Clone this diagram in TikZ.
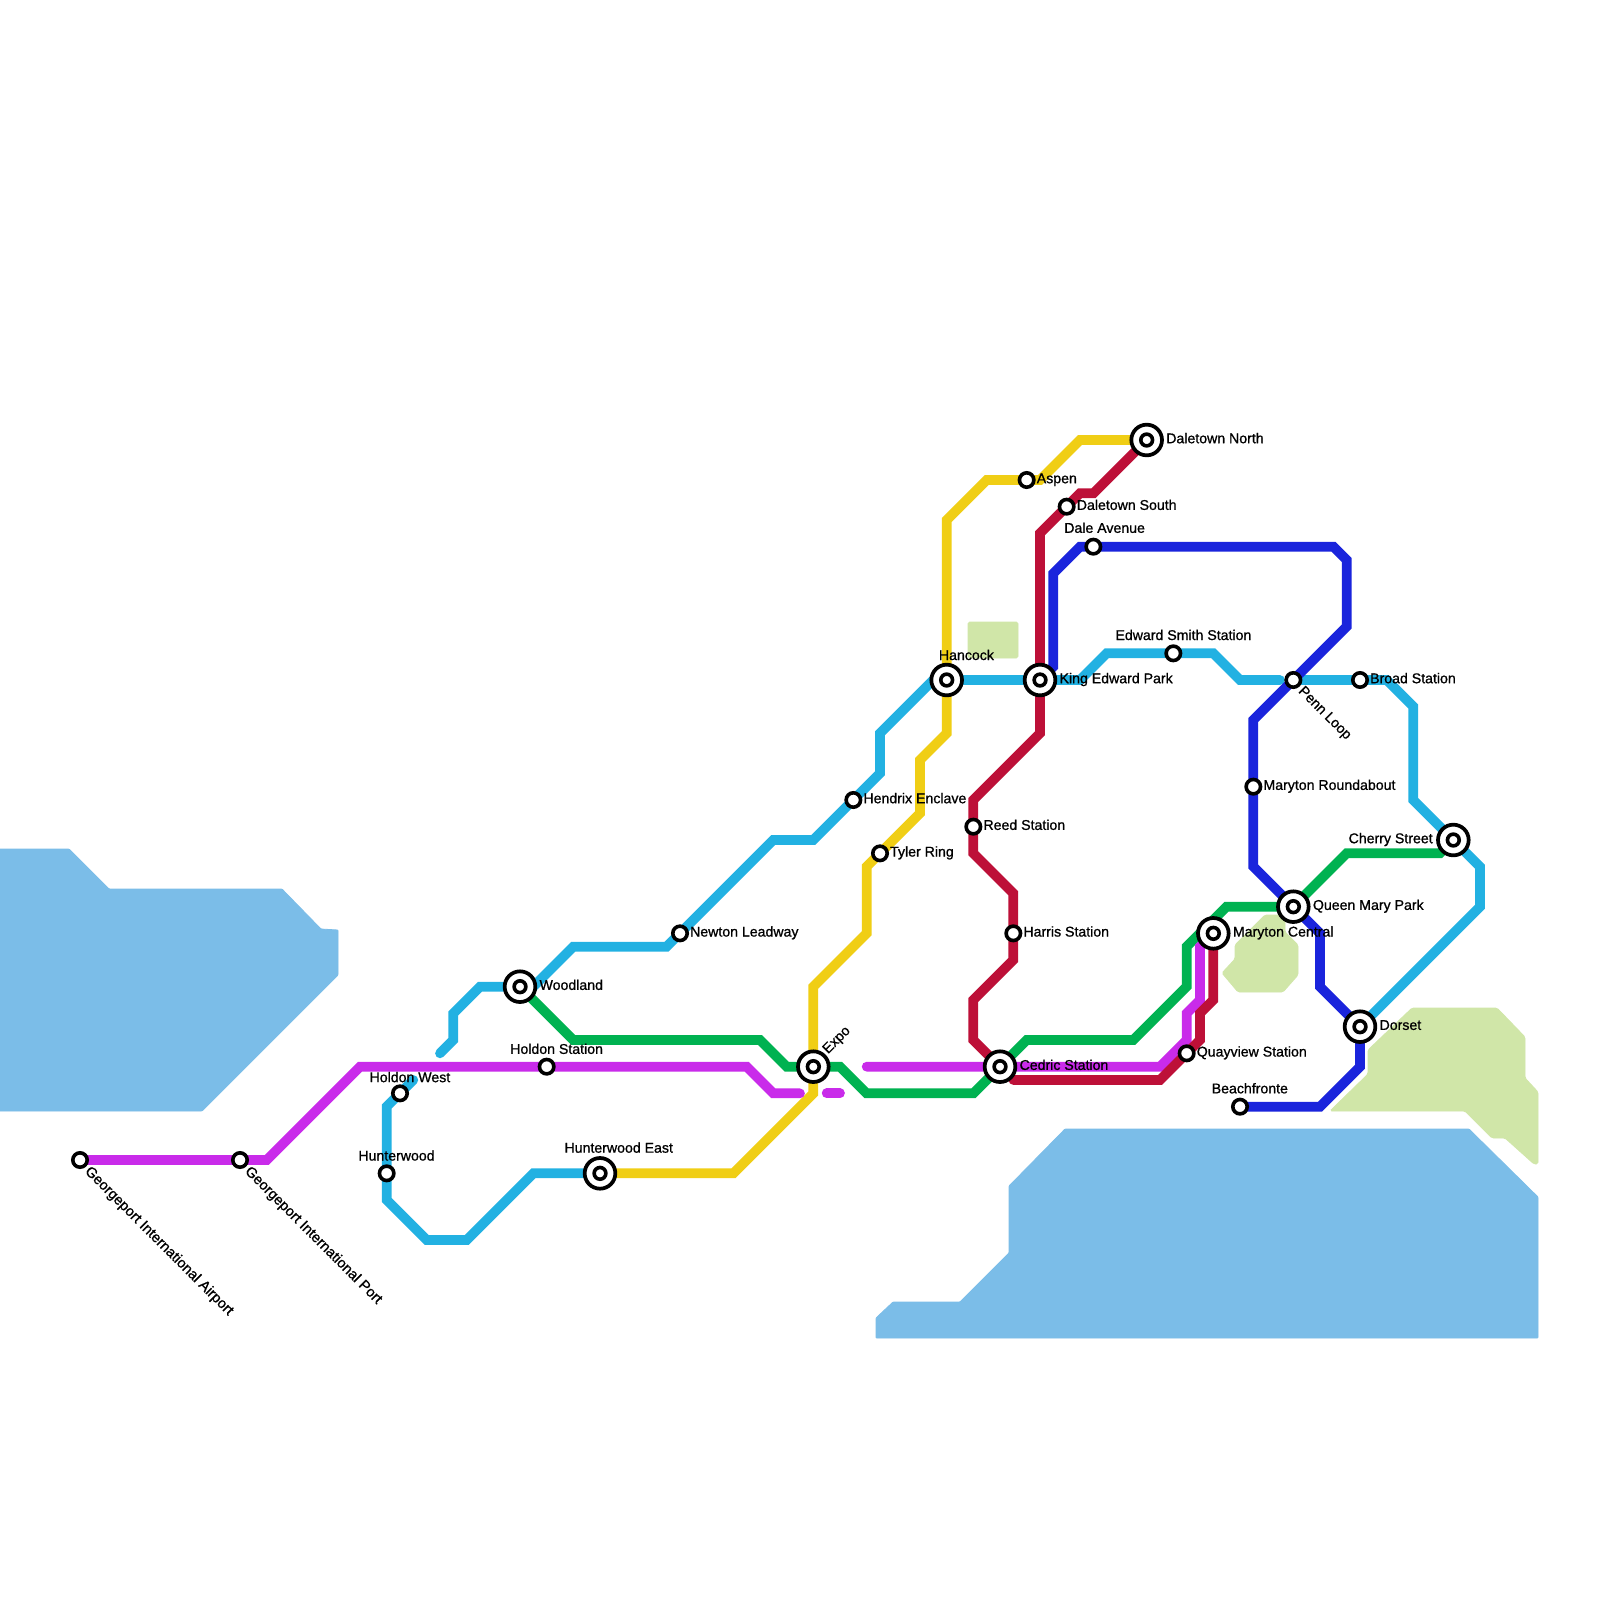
\documentclass[tikz,border=0pt]{standalone}
\usepackage{fontspec}
\newfontfamily\lblfont{Liberation Sans}[FakeBold=0.9]
\pgfdeclarelayer{bg}
\pgfsetlayers{bg,main}
\tikzset{
  stn/.style={circle,draw=black,fill=white,line width=2.7pt,minimum size=10.8pt,inner sep=0pt},
  ic/.style={circle,draw=black,fill=white,line width=2.8pt,minimum size=23pt,inner sep=0pt,
    path picture={\draw[line width=2.7pt] (path picture bounding box.center) circle (4.4pt);}},
  lbl/.style={inner sep=0pt,font=\lblfont\fontsize{10.6}{12}\selectfont,text=black},
  rotlbl/.style={lbl,font=\lblfont\fontsize{10.85}{12}\selectfont,anchor=west,rotate=-45,xshift=8.5pt,yshift=-1.3pt},
  rlbl/.style={lbl,anchor=base west,xshift=7.4pt,yshift=-2.4pt},
  irlbl/.style={lbl,anchor=base west,xshift=14.5pt,yshift=-2.4pt},
  ablbl/.style={lbl,anchor=base west},
  ln/.style={line width=7.3pt,line cap=round,line join=miter,miter limit=10},
  mag/.style={ln,draw=cMag},
  cya/.style={ln,draw=cCya},
  yel/.style={ln,draw=cYel},
  gre/.style={ln,draw=cGre},
  rdd/.style={ln,draw=cRed},
  blu/.style={ln,draw=cBlu},
  water/.style={fill=cWater,draw=cWater,line width=.6pt,rounded corners=.6pt},
  park/.style={fill=cPark,draw=cPark,line width=.6pt,rounded corners=1.2pt}
}
\definecolor{cMag}{HTML}{C92BEA}
\definecolor{cCya}{HTML}{22B1E2}
\definecolor{cYel}{HTML}{F0CE15}
\definecolor{cGre}{HTML}{00B251}
\definecolor{cRed}{HTML}{BD1038}
\definecolor{cBlu}{HTML}{1A24DC}
\definecolor{cWater}{HTML}{7BBDE8}
\definecolor{cPark}{HTML}{D0E6A8}
\begin{document}
\begin{tikzpicture}[x=10pt,y=-10pt]
\useasboundingbox (0,0) rectangle (120,120);
% stations
\node[stn] (airport) at (6,87) {};
\node[stn] (port) at (18,87) {};
\node[stn] (hwest) at (30,82) {};
\node[stn] (hwood) at (29,88) {};
\node[ic]  (woodland) at (39,74) {};
\node[stn] (hstation) at (41,80) {};
\node[ic]  (heast) at (45,88) {};
\node[stn] (newton) at (51,70) {};
\node[ic]  (expo) at (61,80) {};
\node[stn] (tyler) at (66,64) {};
\node[stn] (hendrix) at (64,60) {};
\node[ic]  (hancock) at (71,51) {};
\node[stn] (reed) at (73,62) {};
\node[ic]  (king) at (78,51) {};
\node[stn] (aspen) at (77,36) {};
\node[ic]  (dnorth) at (86,33) {};
\node[stn] (dsouth) at (80,38) {};
\node[stn] (dale) at (82,41) {};
\node[stn] (edward) at (88,49) {};
\node[stn] (penn) at (97,51) {};
\node[stn] (broad) at (102,51) {};
\node[stn] (round) at (94,59) {};
\node[ic]  (cherry) at (109,63) {};
\node[ic]  (queen) at (97,68) {};
\node[ic]  (central) at (91,70) {};
\node[stn] (harris) at (76,70) {};
\node[ic]  (cedric) at (75,80) {};
\node[stn] (quay) at (89,79) {};
\node[stn] (beach) at (93,83) {};
\node[ic]  (dorset) at (102,77) {};
% free ends
\coordinate (cyanA) at (33,79);
\coordinate (cyanB) at (31,81);
\coordinate (magA) at (60,82);
\coordinate (magB1) at (62,82);
\coordinate (magB2) at (63,82);
\coordinate (magC) at (65,80);
\coordinate (redB) at (76,81);
\coordinate (cyanC) at (96,51);
\coordinate (bluE) at (79,50);
% labels
\node[rotlbl] (tairport) at (airport) {Georgeport International Airport};
\node[rotlbl] (tport) at (port) {Georgeport International Port};
\node[ablbl,xshift=-23pt,yshift=8.4pt] (thwest) at (hwest) {Holdon West};
\node[ablbl,xshift=-21.4pt,yshift=9.6pt] (thwood) at (hwood) {Hunterwood};
\node[irlbl] (twood) at (woodland) {Woodland};
\node[ablbl,xshift=-27.5pt,yshift=9.6pt] (thst) at (hstation) {Holdon Station};
\node[ablbl,xshift=-26.8pt,yshift=15.5pt] (theast) at (heast) {Hunterwood East};
\node[rlbl] (tnewton) at (newton) {Newton Leadway};
\node[lbl,anchor=west,rotate=45,xshift=14.2pt,yshift=1.3pt] (texpo) at (expo) {Expo};
\node[rlbl] (ttyler) at (tyler) {Tyler Ring};
\node[rlbl] (thendrix) at (hendrix) {Hendrix Enclave};
\node[ablbl,xshift=-6pt,yshift=15pt] (thancock) at (hancock) {Hancock};
\node[rlbl] (treed) at (reed) {Reed Station};
\node[irlbl] (tking) at (king) {King Edward Park};
\node[rlbl] (taspen) at (aspen) {Aspen};
\node[irlbl] (tdnorth) at (dnorth) {Daletown North};
\node[rlbl] (tdsouth) at (dsouth) {Daletown South};
\node[ablbl,xshift=-22pt,yshift=10.4pt] (tdale) at (dale) {Dale Avenue};
\node[ablbl,xshift=-43.6pt,yshift=10pt] (tedward) at (edward) {Edward Smith Station};
\node[rotlbl,font=\lblfont\fontsize{10.6}{12}\selectfont] (tpenn) at (penn) {Penn Loop};
\node[rlbl] (tbroad) at (broad) {Broad Station};
\node[rlbl] (tround) at (round) {Maryton Roundabout};
\node[lbl,anchor=base east,xshift=-15.3pt,yshift=-2.4pt] (tcherry) at (cherry) {Cherry Street};
\node[irlbl] (tqueen) at (queen) {Queen Mary Park};
\node[irlbl] (tcentral) at (central) {Maryton Central};
\node[rlbl] (tharris) at (harris) {Harris Station};
\node[irlbl] (tcedric) at (cedric) {Cedric Station};
\node[rlbl] (tquay) at (quay) {Quayview Station};
\node[ablbl,xshift=-21.4pt,yshift=10pt] (tbeach) at (beach) {Beachfronte};
\node[irlbl] (tdorset) at (dorset) {Dorset};
\begin{pgfonlayer}{bg}
\begin{scope}[x=.75pt,y=-.75pt]
\fill[white] (0,0) rectangle (1600,1600);
\path[water] (-2,849) -- (69,849) -- (109,889) -- (282,889) -- (321,929) -- (338,930) -- (338,975) -- (202,1111) -- (-2,1111) -- cycle;
\path[water] (1065,1129) -- (1469,1129) -- (1538,1197) -- (1538,1338) -- (876,1338) -- (876,1318) -- (893,1302) -- (960,1302) -- (1009,1253) -- (1009,1186) -- cycle;
\path[park] (968,622) rectangle (1018,658);
\path[park] (1222,973) -- (1235,959) -- (1235,945) -- (1265,915) -- (1285,915) -- (1285,932) -- (1298,945) -- (1298,975) -- (1283,992) -- (1238,992) -- cycle;
\path[park] (1330,1111) -- (1368,1074) -- (1368,1050) -- (1412,1008) -- (1497,1008) -- (1525,1037) -- (1525,1078) -- (1538,1092) -- (1538,1164) -- (1534,1164) -- (1505,1138) -- (1492,1138) -- (1465,1111) -- cycle;
\end{scope}
% lines
\draw[yel] (heast.center) -- (55,88) -- (61,82) -- (expo.center) -- (61,74) -- (65,70) -- (65,65) -- (69,61) -- (69,57) -- (71,55) -- (hancock.center) -- (71,39) -- (74,36) -- (aspen.center) -- (78,36) -- (81,33) -- (dnorth.center);
\draw[gre] (woodland.center) -- (43,78) -- (57,78) -- (59,80) -- (expo.center) -- (63,80) -- (65,82) -- (73,82) -- (cedric.center) -- (77,78) -- (85,78) -- (89,74) -- (89,71) -- (92,68) -- (queen.center) -- (101,64) -- (108,64) -- (cherry.center);
\draw[cya] (cyanA) -- (34,78) -- (34,76) -- (36,74) -- (woodland.center) -- (40,74) -- (43,71) -- (50,71) -- (newton.center) -- (58,63) -- (61,63) -- (hendrix.center) -- (66,58) -- (66,55) -- (70,51) -- (hancock.center) -- (king.center) -- (81,51) -- (83,49) -- (edward.center) -- (91,49) -- (93,51) -- (cyanC);
\draw[cya] (penn.center) -- (broad.center) -- (104,51) -- (106,53) -- (106,60) -- (cherry.center) -- (111,65) -- (111,68) -- (dorset.center);
\draw[cya] (cyanB) -- (hwest.center) -- (29,83) -- (hwood.center) -- (29,90) -- (32,93) -- (35,93) -- (40,88) -- (heast.center);
\draw[mag] (airport.center) -- (port.center) -- (20,87) -- (27,80) -- (hstation.center) -- (56,80) -- (58,82) -- (magA);
\draw[mag] (magB1) -- (magB2);
\draw[mag] (magC) -- (cedric.center) -- (87,80) -- (89,78) -- (89,76) -- (90,75) -- (90,71) -- (central.center);
\draw[rdd] (dnorth.center) -- (82,37) -- (81,37) -- (dsouth.center) -- (78,40) -- (king.center) -- (78,55) -- (73,60) -- (reed.center) -- (73,64) -- (76,67) -- (harris.center) -- (76,72) -- (73,75) -- (73,78) -- (cedric.center);
\draw[rdd] (redB) -- (87,81) -- (quay.center) -- (90,78) -- (90,76) -- (91,75) -- (central.center);
\draw[blu] (beach.center) -- (99,83) -- (102,80) -- (dorset.center) -- (99,74) -- (99,70) -- (queen.center) -- (94,65) -- (round.center) -- (94,54) -- (penn.center) -- (101,47) -- (101,42) -- (100,41) -- (dale.center) -- (81,41) -- (79,43) -- (bluE) -- (king.center);
\end{pgfonlayer}
\end{tikzpicture}
\end{document}
